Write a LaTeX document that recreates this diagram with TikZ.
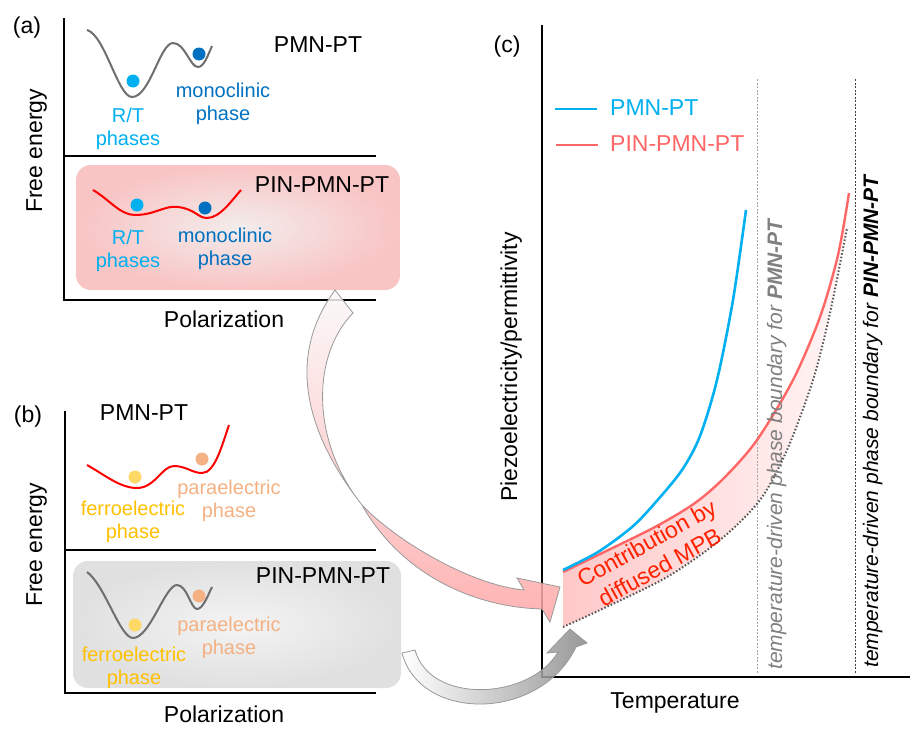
\documentclass[tikz,border=0pt]{standalone}
\usepackage{fontspec}
\setmainfont{Liberation Sans}
\definecolor{rtblue}{RGB}{0,176,240}
\definecolor{monoblue}{RGB}{0,112,192}
\definecolor{ferrotext}{RGB}{255,192,0}
\definecolor{ferrodot}{RGB}{255,217,102}
\definecolor{paraorange}{RGB}{244,177,131}
\definecolor{wellgray}{RGB}{110,110,110}
\definecolor{wellred}{RGB}{255,0,0}
\definecolor{pinkin}{RGB}{243,236,236}
\definecolor{pinkout}{RGB}{249,196,196}
\definecolor{grayin}{RGB}{244,244,244}
\definecolor{grayout}{RGB}{224,224,224}
\definecolor{pinred}{RGB}{255,102,102}
\definecolor{mpbred}{RGB}{255,32,0}
\definecolor{mpbleft}{RGB}{255,200,200}
\definecolor{mpbright}{RGB}{255,246,246}
\definecolor{dotgray}{RGB}{85,85,85}
\definecolor{arrowtop}{RGB}{250,248,248}
\definecolor{arrowpink}{RGB}{255,165,165}
\definecolor{arrowgray}{RGB}{135,135,135}

\begin{document}
\begin{tikzpicture}[
    x=1pt, y=-1pt,
    title/.style={font=\fontsize{23}{27}\selectfont, inner sep=0pt},
    lbl/.style={font=\fontsize{20}{23}\selectfont, align=center, inner sep=0pt, anchor=north},
    axis/.style={line width=2.4pt},
    well/.style={line width=2pt},
    bnd/.style={font=\fontsize{21}{25}\selectfont\itshape, rotate=90, anchor=base west, inner sep=0pt},
    guide/.style={line width=1pt, dash pattern=on 2pt off 1.5pt},
    bentarrow/.style={draw=gray!80, line width=0.8pt, fill opacity=0.85}
]
\useasboundingbox (0,0) rectangle (920,744);

% Panel (a)
\shade[rounded corners=15pt, inner color=pinkin, outer color=pinkout] (76,165) rectangle (400,290);
\draw[axis] (64,18) -- (64,300) -- (376,300);
\draw[axis] (64,156) -- (376,156);
\node[title, anchor=base] (alabel) at (27,33) {(a)};
\node[title, anchor=base] (apmn) at (318,52) {PMN-PT};
\node[title, anchor=base] (apin) at (322,192) {PIN-PMN-PT};
\node[title, rotate=90, anchor=base west] (afree) at (42,213) {Free energy};
\node[title, anchor=base] (apol) at (224,327) {Polarization};

\draw[well, wellgray] (87,30) .. controls (105,35) and (118,97) .. (132,97) .. controls (150,97) and (160,43) .. (173,43) .. controls (185,43) and (190,67) .. (198,67) .. controls (204,67) and (208,55) .. (212,46);
\fill[rtblue] (133,81) circle[radius=6.5];
\fill[monoblue] (199,54) circle[radius=6.5];
\node[lbl, text=rtblue] (art) at (128,108) {R/T\\phases};
\node[lbl, text=monoblue] (amono) at (223,83) {monoclinic\\phase};

\draw[well, wellred] (93,190) .. controls (110,200) and (120,215) .. (135,215) .. controls (155,215) and (165,205) .. (178,207) .. controls (195,209) and (198,218) .. (207,218) .. controls (220,218) and (232,200) .. (241,190);
\fill[rtblue] (137,205) circle[radius=6.5];
\fill[monoblue] (205,208) circle[radius=6.5];
\node[lbl, text=rtblue] (art2) at (128,230) {R/T\\phases};
\node[lbl, text=monoblue] (amono2) at (225,228) {monoclinic\\phase};

% Panel (b)
\shade[rounded corners=15pt, inner color=grayin, outer color=grayout] (73,561) rectangle (401,688);
\draw[axis] (65,411) -- (65,693) -- (376,693);
\draw[axis] (65,550) -- (376,550);
\node[title, anchor=base] (blabel) at (28,422) {(b)};
\node[title, anchor=base] (bpmn) at (144,420) {PMN-PT};
\node[title, anchor=base] (bpin) at (323,583) {PIN-PMN-PT};
\node[title, rotate=90, anchor=base west] (bfree) at (42,607) {Free energy};
\node[title, anchor=base] (bpol) at (224,722) {Polarization};

\draw[well, wellred] (87,465) .. controls (105,475) and (120,488) .. (137,488) .. controls (155,488) and (162,466) .. (174,466) .. controls (186,466) and (192,473) .. (202,473) .. controls (215,473) and (222,445) .. (229,425);
\fill[ferrodot] (135,477) circle[radius=6.5];
\fill[paraorange] (202,459) circle[radius=6.5];
\node[lbl, text=ferrotext] (bferro) at (133,501) {ferroelectric\\phase};
\node[lbl, text=paraorange] (bpara) at (229,480) {paraelectric\\phase};

\draw[well, wellgray] (87,572) .. controls (105,585) and (120,638) .. (133,638) .. controls (150,638) and (165,585) .. (177,585) .. controls (187,585) and (191,609) .. (197,609) .. controls (203,609) and (208,595) .. (212,587);
\fill[ferrodot] (135,625) circle[radius=6.5];
\fill[paraorange] (199,596) circle[radius=6.5];
\node[lbl, text=ferrotext] (bferro2) at (134,647) {ferroelectric\\phase};
\node[lbl, text=paraorange] (bpara2) at (229,617) {paraelectric\\phase};

% Panel (c)
\shade[left color=mpbleft, right color=mpbright] plot[smooth] coordinates {(563,572) (598,555) (655,527) (695,503) (725,477) (757,440) (793,380) (820,317) (838,255) (849,193)} -- plot[smooth] coordinates {(847,228) (830,313) (813,380) (787,450) (760,500) (720,540) (667,577) (600,610) (563,627)} -- cycle;
\draw[guide, gray!70] (757,79) -- (757,673);
\draw[guide, black!75] (855,79) -- (855,673);
\draw[line width=2.4pt, pinred] plot[smooth] coordinates {(563,572) (598,555) (655,527) (695,503) (725,477) (757,440) (793,380) (820,317) (838,255) (849,193)};
\draw[line width=2.6pt, rtblue] plot[smooth] coordinates {(563,570) (598,552) (632,527) (655,503) (682,470) (700,436) (717,380) (733,300) (746,210)};
\draw[line width=2pt, dotgray, dash pattern=on 1.5pt off 2pt] plot[smooth] coordinates {(563,627) (600,610) (667,577) (720,540) (760,500) (787,450) (813,380) (830,313) (847,228)};
\draw[line width=1.8pt] (542,25) -- (542,677) -- (910,677);

\node[title, anchor=base] (clabel) at (507,52) {(c)};
\node[title, rotate=90, anchor=base west] (cpiezo) at (517,502) {Piezoelectricity/permittivity};
\node[title, anchor=base] (ctemp) at (675,708) {Temperature};
\draw[line width=2.4pt, rtblue] (555,109) -- (597,109);
\draw[line width=2.4pt, pinred] (556,145) -- (598,145);
\node[title, text=rtblue, anchor=base west] (legpmn) at (610,115) {PMN-PT};
\node[title, text=pinred, anchor=base west] (legpin) at (610,151) {PIN-PMN-PT};
\node[bnd, text=gray] (bndpmn) at (782,670) {temperature-driven phase boundary for \textbf{PMN-PT}};
\node[bnd] (bndpin) at (878,668) {temperature-driven phase boundary for \textbf{PIN-PMN-PT}};
\node[font=\fontsize{23}{27}\selectfont, text=mpbred, rotate=29, align=center, inner sep=0pt] (mpb) at (653,555) {Contribution by\\diffused MPB};

% Bent arrows
\shadedraw[bentarrow, top color=arrowtop, bottom color=arrowpink] (335,290) -- (353,313) .. controls (312,355) and (310,440) .. (362,505) .. controls (395,540) and (470,585) .. (524,590) -- (517,578) -- (560,587) -- (550,622) -- (542,609) .. controls (470,607) and (400,572) .. (362,505) .. controls (315,445) and (280,365) .. (335,290) -- cycle;
\shadedraw[bentarrow, left color=white, right color=arrowgray] (402,653) -- (415,650) .. controls (430,705) and (530,700) .. (558,652) -- (547,653) -- (570,629) -- (587,643) -- (576,647) .. controls (540,722) and (420,722) .. (402,653) -- cycle;

\end{tikzpicture}
\end{document}
